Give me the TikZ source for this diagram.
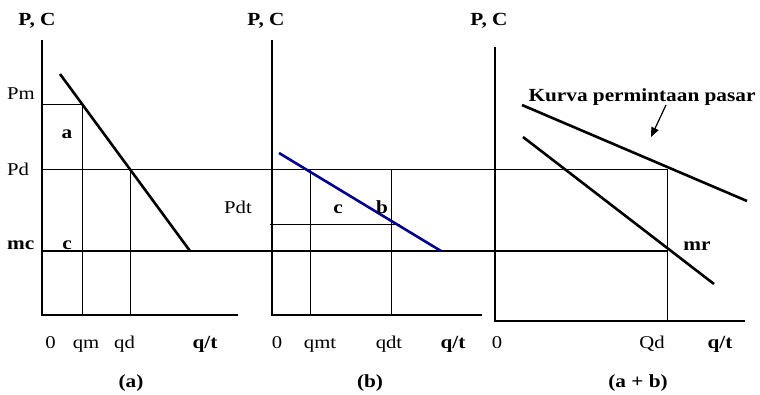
\documentclass[tikz,border=0pt]{standalone}
\usepackage{fontspec}
\setmainfont{Liberation Serif}[FakeStretch=1.15]
\usetikzlibrary{arrows}
\tikzstyle{lbl}=[inner sep=0pt,anchor=base,font=\fontsize{18}{21}\selectfont]
\tikzstyle{blbl}=[inner sep=0pt,anchor=base,font=\fontsize{18.5}{21}\selectfont\bfseries]
\tikzstyle{axis}=[line width=1.4pt]
\tikzstyle{guide}=[line width=0.8pt]
\tikzstyle{curve}=[line width=2.6pt]

\begin{document}
\begin{tikzpicture}[x=1pt,y=-1pt,>=stealth]
\useasboundingbox (0,0) rectangle (760,394);
% panel (a)
\coordinate (Ya) at (42,40);
\coordinate (Oa) at (42,315);
\coordinate (Xa) at (238,315);
\coordinate (Pma) at (42,104);
\coordinate (Pda) at (42,169);
\coordinate (mca) at (42,251);
\coordinate (Da1) at (60,74);
\coordinate (Da2) at (190,251);
\coordinate (qmT) at (82,104);
\coordinate (qmB) at (82,315);
\coordinate (qdT) at (130,169);
\coordinate (qdB) at (130,315);
% panel (b)
\coordinate (Yb) at (272,40);
\coordinate (Ob) at (272,315);
\coordinate (Xb) at (482,315);
\coordinate (Db1) at (279,153);
\coordinate (Db2) at (441,251);
\coordinate (Pdt1) at (270,224);
\coordinate (Pdt2) at (400,224);
\coordinate (qmtT) at (310,169);
\coordinate (qmtB) at (310,315);
\coordinate (qdtT) at (391,169);
\coordinate (qdtB) at (391,315);
% panel (a + b)
\coordinate (Yc) at (495,47);
\coordinate (Oc) at (495,321);
\coordinate (Xc) at (745,321);
\coordinate (Dc1) at (522,105);
\coordinate (Dc2) at (747,201);
\coordinate (mr1) at (523,137);
\coordinate (mr2) at (714,284);
\coordinate (QdT) at (667,169);
\coordinate (QdM) at (667,251);
\coordinate (QdB) at (667,321);
\coordinate (arrS) at (666,105);
\coordinate (arrE) at (651,137);

\draw[axis] (Ya)--(Oa)--(Xa);
\draw[axis] (Yb)--(Ob)--(Xb);
\draw[axis] (Yc)--(Oc)--(Xc);
\draw[guide] (Pma)--(qmT)--(qmB);
\draw[guide] (Pda)--(QdT)--(QdB);
\draw[guide] (qdT)--(qdB);
\draw[guide] (qmtT)--(qmtB);
\draw[guide] (qdtT)--(qdtB);
\draw[guide] (Pdt1)--(Pdt2);
\draw[line width=2.8pt] (mca)--(QdM);
\draw[curve] (Da1)--(Da2);
\draw[curve,draw=blue!55!black] (Db1)--(Db2);
\draw[curve] (Dc1)--(Dc2);
\draw[curve] (mr1)--(mr2);
\draw[-triangle 45,line width=1.2pt] (arrS)--(arrE);

\node[blbl] (PCa) at (37,25) {P, C};
\node[blbl] (PCb) at (266,25) {P, C};
\node[blbl] (PCc) at (489,25) {P, C};
\node[lbl,anchor=base west] (Pm) at (7,99) {Pm};
\node[lbl,anchor=base west] (Pd) at (7,175) {Pd};
\node[blbl,anchor=base west] (mc) at (7,249) {mc};
\node[blbl] (a) at (67,138) {a};
\node[blbl] (ca) at (67,249) {c};
\node[lbl] (Pdt) at (238,213) {Pdt};
\node[blbl] (cb) at (338,213) {c};
\node[blbl] (b) at (382,213) {b};
\node[blbl] (kurva) at (642,101) {Kurva permintaan pasar};
\node[blbl] (mr) at (697,250) {mr};
\node[lbl] (z1) at (50.5,348) {0};
\node[lbl] (qm) at (86,348) {qm};
\node[lbl] (qd) at (124.5,348) {qd};
\node[blbl] (qta) at (205,348) {q/t};
\node[lbl] (z2) at (277,348) {0};
\node[lbl] (qmt) at (320,348) {qmt};
\node[lbl] (qdt) at (389,348) {qdt};
\node[blbl] (qtb) at (453,348) {q/t};
\node[lbl] (z3) at (497,348) {0};
\node[lbl] (Qd) at (652,348) {Qd};
\node[blbl] (qtc) at (720,348) {q/t};
\node[blbl] (capa) at (131,387) {(a)};
\node[blbl] (capb) at (370,387) {(b)};
\node[blbl] (capc) at (638,387) {(a + b)};
\end{tikzpicture}
\end{document}
